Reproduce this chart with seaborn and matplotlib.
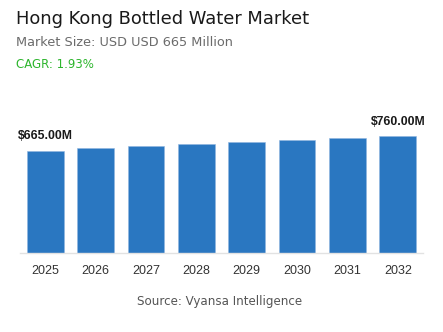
import matplotlib
matplotlib.use("Agg")
import matplotlib.pyplot as plt
import seaborn as sns
import pandas as pd

years = ["2025", "2026", "2027", "2028", "2029", "2030", "2031", "2032"]
market_size = [665, 680, 697, 707, 721, 737, 750, 760]
labelled = {0: "$665.00M", 7: "$760.00M"}

title = "Hong Kong Bottled Water Market"
subtitle = "Market Size: USD USD 665 Million"
cagr_text = "CAGR: 1.93%"
source_text = "Source: Vyansa Intelligence"

sns.set_theme(style="white")
plt.rcParams["font.family"] = ["Liberation Sans", "DejaVu Sans"]

df = pd.DataFrame({"year": years, "value": market_size})

fig = plt.figure(figsize=(4.43, 3.32), dpi=100)
ax = fig.add_axes([20 / 443, 79 / 332, 403 / 443, 143 / 332])

sns.barplot(data=df, x="year", y="value", color="#2a77c1", width=0.73,
            saturation=1, edgecolor="#8fb6e0", linewidth=0.4, ax=ax)

ax.set_xlim(-0.5, 7.5)
ax.set_ylim(0, 930)
ax.set_xlabel("")
ax.set_ylabel("")
ax.set_yticks([])
for side in ["top", "right", "left"]:
    ax.spines[side].set_visible(False)
ax.spines["bottom"].set_color("#e2e2e2")
ax.spines["bottom"].set_linewidth(1.0)
ax.tick_params(axis="x", length=0, pad=9, labelsize=9, labelcolor="#333333")

for i, txt in labelled.items():
    ax.annotate(txt, (i, market_size[i]), xytext=(0, 6), textcoords="offset points",
                ha="center", va="bottom", fontsize=8.8, fontweight="bold",
                color="#1a1a1a")

head_font = ["DejaVu Sans"]
fig.text(16 / 443, 1 - 19 / 332, title, ha="left", va="center",
         fontsize=12.9, color="#1a1a1a", family=head_font)
fig.text(16 / 443, 1 - 43 / 332, subtitle, ha="left", va="center",
         fontsize=9.3, color="#6b6b6b", family=head_font)
fig.text(16 / 443, 1 - 64.5 / 332, cagr_text, ha="left", va="center",
         fontsize=8.5, color="#2db52d", family=head_font)
fig.text(220 / 443, 1 - 302 / 332, source_text, ha="center", va="center",
         fontsize=8.6, color="#555555", family=head_font)

fig.savefig("out.png", dpi=100, facecolor="white")
